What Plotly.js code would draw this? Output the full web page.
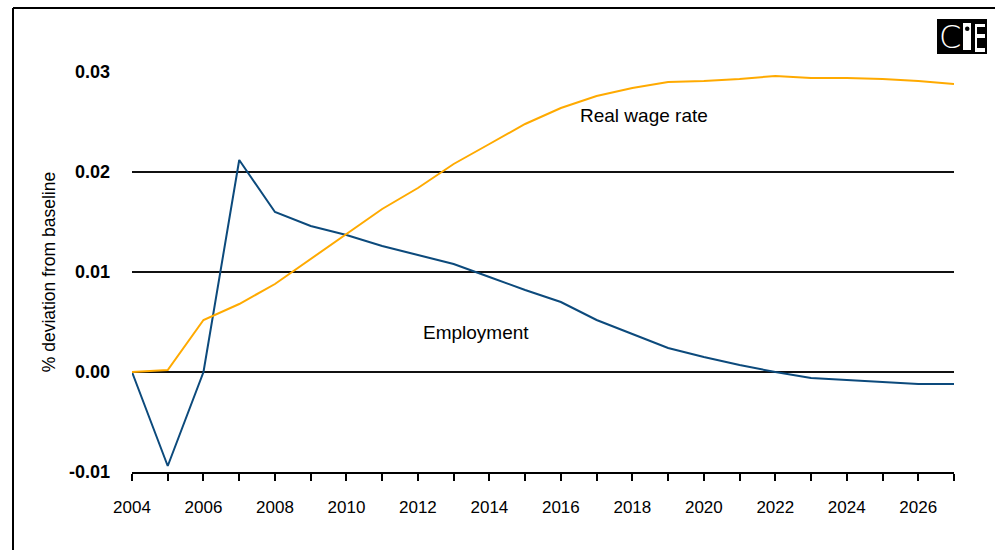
<!DOCTYPE html>
<html>
<head>
<meta charset="utf-8">
<script src="https://cdn.plot.ly/plotly-3.0.1.min.js"></script>
<style>html,body{margin:0;padding:0;background:#fff;}#chart{width:995px;height:550px;}</style>
</head>
<body>
<div id="chart"></div>
<script>
const years = [2004,2005,2006,2007,2008,2009,2010,2011,2012,2013,2014,2015,2016,2017,2018,2019,2020,2021,2022,2023,2024,2025,2026,2027];
const employment = [0.0,-0.0094,0.0,0.0212,0.0160,0.0146,0.0137,0.0126,0.0117,0.0108,0.0095,0.0082,0.0070,0.0052,0.0038,0.0024,0.0015,0.0007,0.0,-0.0006,-0.0008,-0.0010,-0.0012,-0.0012];
const realWage = [0.0,0.0002,0.0052,0.0068,0.0088,0.0113,0.0138,0.0163,0.0184,0.0208,0.0228,0.0248,0.0264,0.0276,0.0284,0.0290,0.0291,0.0293,0.0296,0.0294,0.0294,0.0293,0.0291,0.0288];
const yTickVals = [-0.01,0.00,0.01,0.02,0.03];
const yTickText = ['-0.01','0.00','0.01','0.02','0.03'];
const xTickText = years.map(y => (y % 2 === 0 ? String(y) : ''));

const W = 995, H = 550, ML = 132, MR = 41, MT = 72, MB = 78;
const px = x => (x - ML) / (W - ML - MR);
const py = y => (H - MB - y) / (H - MT - MB);

const sans = '"Liberation Sans", Arial, sans-serif';

const traces = [
  {x: years, y: employment, type: 'scatter', mode: 'lines', name: 'Employment',
   line: {color: '#0C4A7C', width: 2}},
  {x: years, y: realWage, type: 'scatter', mode: 'lines', name: 'Real wage rate',
   line: {color: '#FFAA00', width: 2}}
];

const logo = (t, x0, x1, y0, y1, color) => ({type: t, xref:'paper', yref:'paper', layer:'below',
  x0: px(x0), x1: px(x1), y0: py(y1), y1: py(y0), fillcolor: color, line: {width: 0}});

const shapes = [
  // frame
  {type:'line', xref:'paper', yref:'paper', x0:px(13), x1:px(995), y0:py(8), y1:py(8), line:{color:'#000', width:2}},
  {type:'line', xref:'paper', yref:'paper', x0:px(13), x1:px(13), y0:py(8), y1:py(550), line:{color:'#000', width:2}},
  // logo
  logo('rect', 937, 987, 19, 54, '#000'),
  logo('rect', 963, 971, 23, 50, '#fff'),
  logo('circle', 965, 969.5, 26.5, 31, '#000'),
  logo('rect', 975, 985, 24, 27, '#fff'),
  logo('rect', 975, 985, 34, 38, '#fff'),
  logo('rect', 975, 985, 48, 52, '#fff'),
  logo('rect', 975, 977, 24, 52, '#fff')
];

const annotations = [
  {xref:'x', yref:'y', x:2018.33, y:0.0257, text:'Real wage rate', showarrow:false,
   font:{family:sans, size:19, color:'#000'}},
  {xref:'x', yref:'y', x:2013.62, y:0.0040, text:'Employment', showarrow:false,
   font:{family:sans, size:19, color:'#000'}},
  {xref:'paper', yref:'paper', x:px(950), y:py(37), xanchor:'center', yanchor:'middle', text:'C', showarrow:false,
   font:{family:'"DejaVu Sans", sans-serif', size:32, color:'#fff', weight: 300}}
];

const layout = {
  width: W, height: H,
  margin: {l: ML, r: MR, t: MT, b: MB, pad: 0},
  paper_bgcolor: '#fff', plot_bgcolor: '#fff',
  showlegend: false,
  xaxis: {
    range: [2004, 2027],
    tickmode: 'array', tickvals: years, ticktext: xTickText,
    ticks: 'outside', ticklen: 7, tickwidth: 2, tickcolor: '#000',
    showline: true, linecolor: '#000', linewidth: 2,
    showgrid: false, zeroline: false,
    tickfont: {family: sans, size: 17, color: '#000'},
    ticklabelstandoff: 12
  },
  yaxis: {
    range: [-0.01, 0.03],
    tickmode: 'array', tickvals: yTickVals, ticktext: yTickText,
    showgrid: true, gridcolor: '#111', gridwidth: 2,
    zeroline: false, showline: false, ticks: '',
    tickfont: {family: sans, size: 18, color: '#000', weight: 'bold'},
    ticklabelstandoff: 21,
    title: {text: '% deviation from baseline', standoff: 8,
            font: {family: sans, size: 17.5, color: '#000'}}
  },
  shapes: shapes,
  annotations: annotations
};

Plotly.newPlot('chart', traces, layout, {displayModeBar: false, staticPlot: true});
</script>
</body>
</html>
